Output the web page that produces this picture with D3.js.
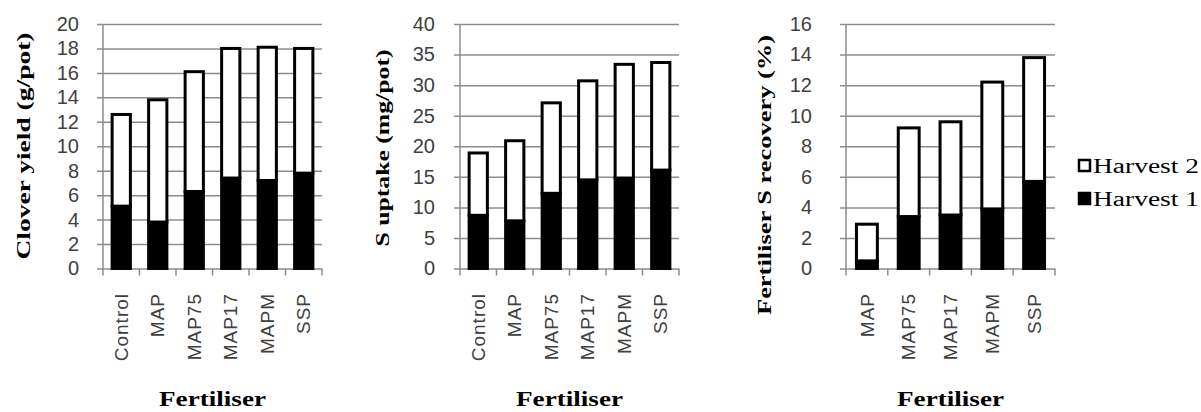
<!DOCTYPE html>
<html>
<head>
<meta charset="utf-8">
<script src="https://cdn.jsdelivr.net/npm/d3@7"></script>
<style>
  body { margin: 0; background: #fff; }
  .tick text { font-family: "Liberation Sans", Arial, sans-serif; font-size: 20px; fill: #404040; }
  .catLabel { font-family: "Liberation Sans", Arial, sans-serif; font-size: 19px; fill: #404040; letter-spacing: 1px; }
  .title { font-family: "Liberation Serif", "Times New Roman", serif; font-weight: bold; font-size: 19px; fill: #000; }
  .xTitle { font-size: 21px; }
  .legendText { font-family: "Liberation Serif", "Times New Roman", serif; font-size: 20px; fill: #000; }
</style>
</head>
<body>
<div id="chart"></div>
<script>
// data
var fertilisers = ["Control", "MAP", "MAP75", "MAP17", "MAPM", "SSP"];
var fertilisersRecovery = ["MAP", "MAP75", "MAP17", "MAPM", "SSP"];

var yieldHarvest1 = [5.1, 3.8, 6.3, 7.4, 7.2, 7.8];
var yieldHarvest2 = [7.5, 10.0, 9.8, 10.6, 10.9, 10.2];

var uptakeHarvest1 = [8.7, 7.8, 12.3, 14.5, 14.8, 16.1];
var uptakeHarvest2 = [10.2, 13.1, 14.8, 16.2, 18.6, 17.6];

var recoveryHarvest1 = [0.5, 3.4, 3.5, 3.9, 5.7];
var recoveryHarvest2 = [2.4, 5.8, 6.1, 8.3, 8.1];

var yieldTicks = [0, 2, 4, 6, 8, 10, 12, 14, 16, 18, 20];
var uptakeTicks = [0, 5, 10, 15, 20, 25, 30, 35, 40];
var recoveryTicks = [0, 2, 4, 6, 8, 10, 12, 14, 16];

var seriesNames = ["Harvest 2", "Harvest 1"];

var svgWidth = 1201;
var svgHeight = 412;
var plotTop = 24;
var plotBottom = 268.5;

var svg = d3.select("#chart")
  .append("svg")
  .attr("width", svgWidth)
  .attr("height", svgHeight);

var panels = [
  { cats: fertilisers, h1: yieldHarvest1, h2: yieldHarvest2, ticks: yieldTicks,
    left: 103, right: 322, pad: 18, title: "Clover yield (g/pot)", titleX: 30, titleY: 146, titleLen: 227 },
  { cats: fertilisers, h1: uptakeHarvest1, h2: uptakeHarvest2, ticks: uptakeTicks,
    left: 460, right: 679, pad: 19, title: "S uptake (mg/pot)", titleX: 389, titleY: 148, titleLen: 197 },
  { cats: fertilisersRecovery, h1: recoveryHarvest1, h2: recoveryHarvest2, ticks: recoveryTicks,
    left: 846, right: 1055, pad: 28, title: "Fertiliser S recovery (%)", titleX: 771, titleY: 175, titleLen: 280 }
];

panels.forEach(function(p) {
  var g = svg.append("g");

  var x = d3.scaleBand()
    .domain(p.cats)
    .range([p.left, p.right])
    .paddingInner(0.5)
    .paddingOuter(0.25);

  var y = d3.scaleLinear()
    .domain([0, d3.max(p.ticks)])
    .range([plotBottom, plotTop]);

  // gridlines + tick labels
  var yAxis = g.append("g")
    .attr("transform", `translate(${p.left - 6}, 0)`)
    .call(d3.axisLeft(y).tickValues(p.ticks).tickSize(-(p.right - p.left + 6)).tickPadding(p.pad));
  yAxis.select(".domain").remove();
  yAxis.selectAll(".tick line").attr("stroke", "#8c8c8c").attr("stroke-width", 1.5);

  // axis line
  g.append("line")
    .attr("x1", p.left).attr("x2", p.left)
    .attr("y1", plotTop).attr("y2", plotBottom)
    .attr("stroke", "#8c8c8c").attr("stroke-width", 1.5);

  // category boundary ticks
  var bounds = d3.range(p.cats.length + 1).map(i => p.left + i * x.step());
  g.selectAll(".xtick")
    .data(bounds)
    .enter()
    .append("line")
    .attr("x1", d => d).attr("x2", d => d)
    .attr("y1", plotBottom).attr("y2", plotBottom + 7)
    .attr("stroke", "#8c8c8c").attr("stroke-width", 1.5);

  // stacked bars
  var rows = p.cats.map((c, i) => ({ cat: c, h1: p.h1[i], h2: p.h2[i] }));
  var stack = d3.stack().keys(["h1", "h2"])(rows);
  var fills = { h1: "#000", h2: "#fff" };

  g.selectAll(".layer")
    .data(stack)
    .enter()
    .append("g")
    .attr("fill", d => fills[d.key])
    .selectAll("rect")
    .data(d => d)
    .enter()
    .append("rect")
    .attr("x", d => x(d.data.cat))
    .attr("width", x.bandwidth())
    .attr("y", d => y(d[1]))
    .attr("height", d => y(d[0]) - y(d[1]))
    .attr("stroke", "#000")
    .attr("stroke-width", 3);

  // category labels
  g.selectAll(".catLabel")
    .data(p.cats)
    .enter()
    .append("text")
    .classed("catLabel", true)
    .attr("transform", d => `translate(${x(d) + x.bandwidth() / 2}, 293) rotate(-90)`)
    .attr("text-anchor", "end")
    .attr("dy", "0.35em")
    .text(d => d);

  // axis titles
  g.append("text")
    .classed("title", true)
    .attr("transform", `translate(${p.titleX}, ${p.titleY}) rotate(-90)`)
    .attr("text-anchor", "middle")
    .attr("textLength", p.titleLen)
    .attr("lengthAdjust", "spacingAndGlyphs")
    .text(p.title);

  g.append("text")
    .classed("title xTitle", true)
    .attr("x", (p.left + p.right) / 2)
    .attr("y", 406)
    .attr("text-anchor", "middle")
    .attr("textLength", 107)
    .attr("lengthAdjust", "spacingAndGlyphs")
    .text("Fertiliser");
});

// legend
var legend = svg.append("g").attr("transform", "translate(1079, 166)");
var legendFill = ["#fff", "#000"];

var legendItems = legend.selectAll("g")
  .data(seriesNames)
  .enter()
  .append("g")
  .attr("transform", (d, i) => `translate(0, ${i * 33})`);

legendItems.append("rect")
  .attr("x", 0).attr("y", -6)
  .attr("width", 11).attr("height", 11)
  .attr("fill", (d, i) => legendFill[i])
  .attr("stroke", "#000")
  .attr("stroke-width", 2.5);

legendItems.append("text")
  .classed("legendText", true)
  .attr("x", 14)
  .attr("y", 7)
  .attr("textLength", 106)
  .attr("lengthAdjust", "spacingAndGlyphs")
  .text(d => d);
</script>
</body>
</html>
